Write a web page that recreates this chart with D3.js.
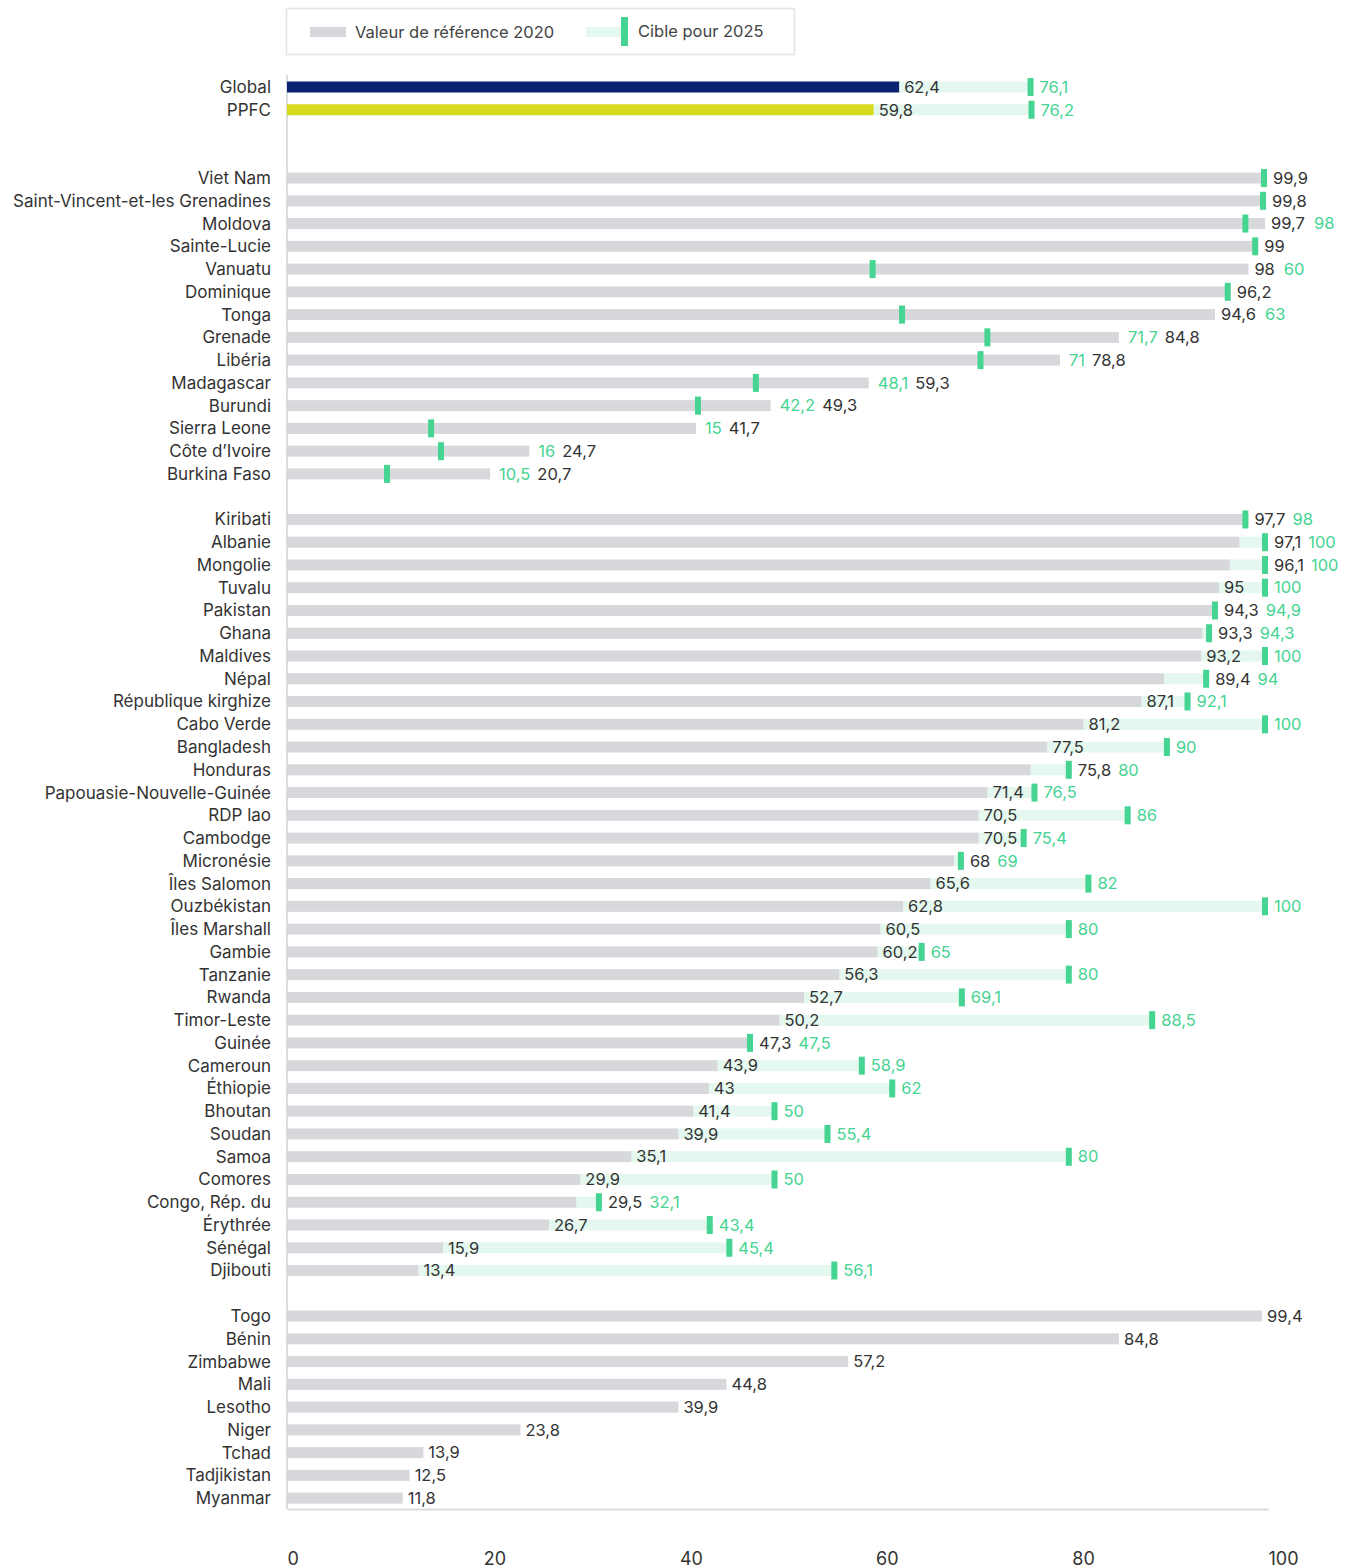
<!DOCTYPE html>
<meta charset="utf-8">
<style>
body { margin: 0; background: #fff; }
svg text { font-family: Inter, "Noto Sans", sans-serif; }
.label { font-size: 16.5px; fill: #333; }
.country { font-size: 17px; fill: #333; text-anchor: end; }
.tgt { font-size: 16.5px; fill: #45d492; }
.axis text { font-size: 18px; fill: #333; }
</style>
<svg width="1351" height="1568"></svg>
<script src="https://cdn.jsdelivr.net/npm/d3@7"></script>
<script>

// groups of rows, in drawing order; null = blank slot
var headNames = ["Global", "PPFC"]
var headBase = [62.4, 59.8]
var headTarget = [76.1, 76.2]
var headColor = ["#0a2270", "#d6db1f"]

var downNames = ["Viet Nam", "Saint-Vincent-et-les Grenadines", "Moldova", "Sainte-Lucie", "Vanuatu",
  "Dominique", "Tonga", "Grenade", "Libéria", "Madagascar", "Burundi", "Sierra Leone",
  "Côte d’Ivoire", "Burkina Faso"]
var downBase = [99.9, 99.8, 99.7, 99, 98, 96.2, 94.6, 84.8, 78.8, 59.3, 49.3, 41.7, 24.7, 20.7]
var downTarget = [99.9, 99.8, 98, 99, 60, 96.2, 63, 71.7, 71, 48.1, 42.2, 15, 16, 10.5]

var upNames = ["Kiribati", "Albanie", "Mongolie", "Tuvalu", "Pakistan", "Ghana", "Maldives", "Népal",
  "République kirghize", "Cabo Verde", "Bangladesh", "Honduras", "Papouasie-Nouvelle-Guinée",
  "RDP lao", "Cambodge", "Micronésie", "Îles Salomon", "Ouzbékistan", "Îles Marshall", "Gambie",
  "Tanzanie", "Rwanda", "Timor-Leste", "Guinée", "Cameroun", "Éthiopie", "Bhoutan", "Soudan",
  "Samoa", "Comores", "Congo, Rép. du", "Érythrée", "Sénégal", "Djibouti"]
var upBase = [97.7, 97.1, 96.1, 95, 94.3, 93.3, 93.2, 89.4, 87.1, 81.2, 77.5, 75.8, 71.4, 70.5, 70.5,
  68, 65.6, 62.8, 60.5, 60.2, 56.3, 52.7, 50.2, 47.3, 43.9, 43, 41.4, 39.9, 35.1, 29.9, 29.5, 26.7,
  15.9, 13.4]
var upTarget = [98, 100, 100, 100, 94.9, 94.3, 100, 94, 92.1, 100, 90, 80, 76.5, 86, 75.4, 69, 82,
  100, 80, 65, 80, 69.1, 88.5, 47.5, 58.9, 62, 50, 55.4, 80, 50, 32.1, 43.4, 45.4, 56.1]

var noNames = ["Togo", "Bénin", "Zimbabwe", "Mali", "Lesotho", "Niger", "Tchad", "Tadjikistan", "Myanmar"]
var noBase = [99.4, 84.8, 57.2, 44.8, 39.9, 23.8, 13.9, 12.5, 11.8]

var ticks = [0, 20, 40, 60, 80, 100]

var rows = []
headNames.forEach(function(n, i) { rows.push({name: n, base: headBase[i], target: headTarget[i], color: headColor[i], kind: "up"}) })
rows.push(null, null)
downNames.forEach(function(n, i) { rows.push({name: n, base: downBase[i], target: downTarget[i], color: "#d7d8dc", kind: "down"}) })
rows.push(null)
upNames.forEach(function(n, i) { rows.push({name: n, base: upBase[i], target: upTarget[i], color: "#d7d8dc", kind: "up"}) })
rows.push(null)
noNames.forEach(function(n, i) { rows.push({name: n, base: noBase[i], target: null, color: "#d7d8dc", kind: "none"}) })

var svg = d3.select("svg")
var x = d3.scaleLinear().domain([0, 100]).range([287, 1268])
var step = 22.76
var y = d3.scaleLinear().domain([0, rows.length - 1]).range([87, 87 + step * (rows.length - 1)])

var green = "#45d492", lightGreen = "#e5f8ef"

// legend
var lg = svg.append("g")
lg.append("rect").attr("x", 286.5).attr("y", 8.5).attr("width", 508).attr("height", 46)
  .attr("fill", "#fff").attr("stroke", "#e4e4e4").attr("stroke-width", 1.5)
lg.append("rect").attr("x", 310).attr("y", 27).attr("width", 36).attr("height", 10).attr("fill", "#d7d8dc")
lg.append("text").attr("class", "label").attr("x", 355).attr("y", 32).attr("dy", "0.35em")
  .style("fill", "#444").text("Valeur de référence 2020")
lg.append("rect").attr("x", 586).attr("y", 27).attr("width", 36).attr("height", 10).attr("fill", lightGreen)
lg.append("rect").attr("x", 621).attr("y", 17).attr("width", 7).attr("height", 29).attr("fill", green)
lg.append("text").attr("class", "label").attr("x", 638).attr("y", 31).attr("dy", "0.35em")
  .style("fill", "#444").text("Cible pour 2025")

// frame lines
svg.append("line").attr("x1", 287).attr("x2", 287).attr("y1", 75).attr("y2", 1509)
  .attr("stroke", "#dcdcdc").attr("stroke-width", 2)

var axis = d3.axisBottom(x).tickValues(ticks).tickSize(0).tickPadding(43).tickFormat(d3.format("d"))
var ag = svg.append("g").attr("class", "axis").attr("transform", "translate(0,1509)").call(axis)
ag.select(".domain").attr("stroke", "#dcdcdc").attr("stroke-width", 2)
ag.selectAll(".tick text").attr("text-anchor", "start").attr("font-family", null)

var fmt = function(v) { return String(v).replace(".", ",") }
var barH = 11, markH = 18, markW = 6

rows.forEach(function(d, i) {
  if (!d) return
  var cy = y(i)
  var g = svg.append("g")
  g.append("text").attr("class", "country").attr("x", 271).attr("y", cy).attr("dy", "0.35em").text(d.name)

  var xb = x(d.base), xt = d.target != null ? x(d.target) : null
  if (d.kind == "up" && d.target > d.base) {
    g.append("rect").attr("x", xb).attr("y", cy - barH / 2).attr("width", xt - xb).attr("height", barH)
      .attr("fill", lightGreen)
  }
  g.append("rect").attr("x", x(0)).attr("y", cy - barH / 2).attr("width", xb - x(0)).attr("height", barH)
    .attr("fill", d.color)
  if (xt != null) {
    // marker sits just left of the target position
    g.append("rect").attr("x", xt - markW).attr("y", cy - markH / 2).attr("width", markW).attr("height", markH)
      .attr("fill", green)
  }

  var bl = g.append("text").attr("class", "label").attr("y", cy).attr("dy", "0.35em").text(fmt(d.base))
  var bw = bl.node().getComputedTextLength()
  var showT = d.target != null && d.target != d.base
  var tl = null, tw = 0
  if (showT) {
    tl = g.append("text").attr("class", "tgt").attr("y", cy).attr("dy", "0.35em").text(fmt(d.target))
    tw = tl.node().getComputedTextLength()
  }

  if (d.kind == "none") {
    bl.attr("x", xb + 5)
  } else if (d.kind == "up" || !showT) {
    var bx = xb + 5
    if (xt != null && bx + bw > xt - markW - 1) bx = Math.max(xt, xb) + 6
    bl.attr("x", bx)
    if (tl) tl.attr("x", Math.max(xt + 6, bx + bw + 7))
  } else {
    // target below baseline
    if (d.base >= 90) {
      var bx2 = xb + 6
      bl.attr("x", bx2)
      tl.attr("x", bx2 + bw + 9)
    } else {
      var tx = xb + 9
      tl.attr("x", tx)
      bl.attr("x", tx + tw + 7)
    }
  }
})

</script>
